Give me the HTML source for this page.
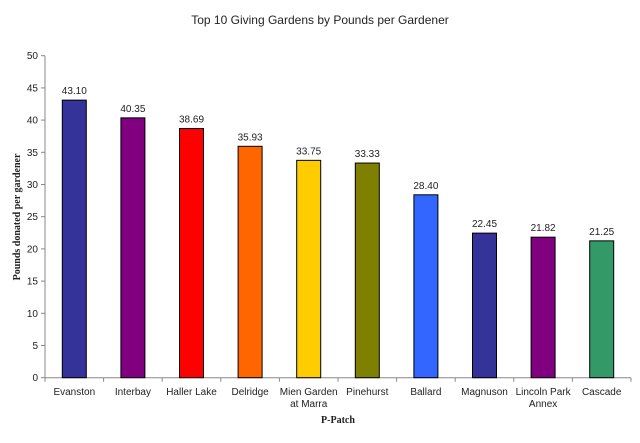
<!DOCTYPE html>
<html><head><meta charset="utf-8"><style>
body{margin:0;background:#fff;}
svg text{font-family:"Liberation Sans",sans-serif;fill:#222;}
</style></head><body>
<svg id="c" width="640" height="438" xmlns="http://www.w3.org/2000/svg">
<text x="320" y="24" text-anchor="middle" font-size="12">Top 10 Giving Gardens by Pounds per Gardener</text>
<text x="-217" y="20" transform="rotate(-90)" text-anchor="middle" font-size="10" font-weight="bold" font-family="Liberation Serif" style="font-family:'Liberation Serif',serif">Pounds donated per gardener</text>
<text x="338" y="423" text-anchor="middle" font-size="10" font-weight="bold" style="font-family:'Liberation Serif',serif">P-Patch</text>
<g id="g"></g>
</svg>
<script>
const categories=["Evanston","Interbay","Haller Lake","Delridge","Mien Garden|at Marra","Pinehurst","Ballard","Magnuson","Lincoln Park|Annex","Cascade"];
const values=[43.10,40.35,38.69,35.93,33.75,33.33,28.40,22.45,21.82,21.25];
const labels=["43.10","40.35","38.69","35.93","33.75","33.33","28.40","22.45","21.82","21.25"];
const colors=["#333399","#800080","#ff0000","#ff6600","#ffcc00","#808000","#3366ff","#333399","#800080","#339966"];
const yTicks=[0,5,10,15,20,25,30,35,40,45,50];
const NS="http://www.w3.org/2000/svg",g=document.getElementById('g');
const x0=45,x1=631,y0=377.7,yTop=55.7,ymax=50;
const bw=(x1-x0)/categories.length;
const y=v=>y0-(v/ymax)*(y0-yTop);
function mk(t,a){const e=document.createElementNS(NS,t);for(const k in a)e.setAttribute(k,a[k]);g.appendChild(e);return e;}
let e=mk('line',{x1:x0,y1:yTop,x2:x0,y2:y0,stroke:'#888'});


e=mk('line',{x1:x0,y1:y0,x2:x1,y2:y0,stroke:'#888'});


yTicks.forEach(t=>{
 mk('line',{x1:x0-4,y1:y(t),x2:x0,y2:y(t),stroke:'#888'});
 const tx=mk('text',{x:x0-7,y:y(t)+3.5,'text-anchor':'end','font-size':10});tx.textContent=t;
 
 
});
for(let i=0;i<=categories.length;i++){mk('line',{x1:x0+i*bw,y1:y0,x2:x0+i*bw,y2:y0+4,stroke:'#888'});}
categories.forEach((c,i)=>{
 const cx=x0+(i+0.5)*bw;
 const r=mk('rect',{x:cx-12,y:y(values[i]),width:24,height:y0-y(values[i]),fill:colors[i],stroke:'#000','stroke-width':1});
 
 
 const vl=mk('text',{x:cx,y:y(values[i])-6,'text-anchor':'middle','font-size':10});vl.textContent=labels[i];
 
 
 c.split('|').forEach((p,j)=>{
  const t=mk('text',{x:cx,y:395+j*12,'text-anchor':'middle','font-size':10});t.textContent=p;
  
  
 });
});
</script>
</body></html>
